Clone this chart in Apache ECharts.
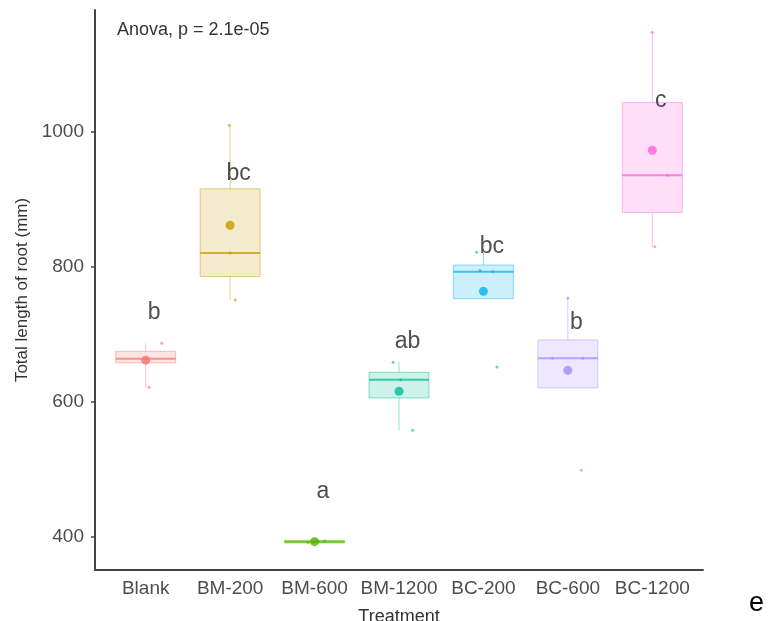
<!DOCTYPE html>
<html>
<head>
<meta charset="utf-8">
<script src="https://cdn.jsdelivr.net/npm/echarts@6/dist/echarts.min.js"></script>
<style>
html, body { margin: 0; padding: 0; background: #fff; }
#main { width: 773px; height: 621px; }
</style>
</head>
<body>
<div id="main"></div>
<script>
// groups on the x axis
var categories = ['Blank', 'BM-200', 'BM-600', 'BM-1200', 'BC-200', 'BC-600', 'BC-1200'];
// [lower whisker, Q1, median, Q3, upper whisker]
var boxStats = [
  [622, 658, 664, 675, 687],
  [751, 786, 821, 916, 1010],
  [389, 391, 393, 395, 396],
  [558, 606, 633, 644, 659],
  [753, 753, 793, 803, 822],
  [621, 621, 665, 692, 754],
  [830, 881, 936, 1044, 1148]
];
var meanValues = [662, 862, 393, 616, 764, 647, 973];
// raw (jittered) observations
var pointGroup  = [1, 1, 1, 2, 2, 2, 3, 3, 3, 4, 4, 4, 5, 5, 5, 5, 6, 6, 6, 6, 7, 7, 7];
var pointJitter = [0.19, 0.04, 0, -0.01, 0, 0.06, -0.08, 0.04, 0.12, -0.07, 0.16, 0.02, -0.08, -0.04, 0.11, 0.16, 0, -0.18, 0.18, 0.16, 0, 0.18, 0.03];
var pointValue  = [687, 622, 664, 1010, 821, 751, 392, 393, 394, 659, 558, 633, 822, 795, 793, 652, 754, 665, 665, 499, 1148, 936, 830];
// significance letters
var letters = ['b', 'bc', 'a', 'ab', 'bc', 'b', 'c'];
var letterY = [732, 939, 467, 689, 830, 717, 1047];
var yTicks = [400, 600, 800, 1000];

var colors = ['#F8766D', '#C49A00', '#53B400', '#00C094', '#00B6EB', '#A58AFF', '#FB61D7'];
var font = 'Arial, "Liberation Sans", sans-serif';

function rgba(hex, a) {
  var n = parseInt(hex.slice(1), 16);
  return 'rgba(' + (n >> 16) + ',' + ((n >> 8) & 255) + ',' + (n & 255) + ',' + a + ')';
}

var chart = echarts.init(document.getElementById('main'));

var boxData = boxStats.map(function (s, i) {
  return [i].concat(s);
});

// ggplot style box: no whisker caps
function renderBox(params, api) {
  var i = api.value(0);
  var c = colors[i];
  var w = api.size([1, 0])[0] * 0.71;
  var lo = api.coord([i, api.value(1)]);
  var q1 = api.coord([i, api.value(2)]);
  var md = api.coord([i, api.value(3)]);
  var q3 = api.coord([i, api.value(4)]);
  var hi = api.coord([i, api.value(5)]);
  var x = lo[0];
  var edge = rgba(c, 0.45);
  return {
    type: 'group',
    children: [{
      type: 'line',
      shape: { x1: x, y1: q3[1], x2: x, y2: hi[1] },
      style: { stroke: edge, lineWidth: 1 }
    }, {
      type: 'line',
      shape: { x1: x, y1: lo[1], x2: x, y2: q1[1] },
      style: { stroke: edge, lineWidth: 1 }
    }, {
      type: 'rect',
      shape: { x: x - w / 2, y: q3[1], width: w, height: q1[1] - q3[1] },
      style: { fill: rgba(c, 0.2), stroke: edge, lineWidth: 1 }
    }, {
      type: 'line',
      shape: { x1: x - w / 2, y1: md[1], x2: x + w / 2, y2: md[1] },
      style: { stroke: rgba(c, 0.75), lineWidth: 2 }
    }]
  };
}

var pointData = pointValue.map(function (v, i) {
  var g = pointGroup[i] - 1;
  return { value: [pointGroup[i] + pointJitter[i], v], itemStyle: { color: rgba(colors[g], 0.8) } };
});

var meanData = meanValues.map(function (v, i) {
  return { value: [i + 1, v], itemStyle: { color: colors[i] } };
});

var letterData = letters.map(function (t, i) {
  return { name: t, value: [i + 1.1, letterY[i]] };
});

option = {
  animation: false,
  backgroundColor: '#fff',
  title: {
    text: 'Anova, p = 2.1e-05',
    left: 112, top: 16,
    textStyle: { fontSize: 18, fontWeight: 'normal', color: '#333', fontFamily: font }
  },
  graphic: [{
    type: 'text', left: 749, top: 590,
    style: { text: 'e', fontSize: 27, fill: '#000', fontFamily: font }
  }],
  grid: [
    { left: 103.5, right: 78.5, top: 10, bottom: 51, outerBoundsMode: 'none', containLabel: false },
    { left: 95, right: 70, top: 10, bottom: 51, outerBoundsMode: 'none', containLabel: false }
  ],
  xAxis: [{
    type: 'category',
    gridIndex: 0,
    data: categories,
    name: 'Treatment',
    nameLocation: 'middle',
    nameGap: 38,
    nameTextStyle: { fontSize: 18, color: '#333', fontFamily: font },
    axisLine: { show: false },
    axisTick: { alignWithLabel: true, length: 4, lineStyle: { color: '#444', width: 1.5 } },
    axisLabel: { fontSize: 19, color: '#4d4d4d', margin: 9, fontFamily: font, interval: 0 },
    splitLine: { show: false }
  }, {
    type: 'value',
    gridIndex: 0,
    min: 0.5, max: 7.5,
    show: false
  }, {
    type: 'value',
    gridIndex: 1,
    min: 0, max: 1,
    axisLine: { show: true, onZero: false, lineStyle: { color: '#444', width: 2 } },
    axisTick: { show: false },
    axisLabel: { show: false },
    splitLine: { show: false }
  }],
  yAxis: [{
    type: 'value',
    gridIndex: 0,
    min: 351, max: 1181,
    offset: 8.5,
    name: 'Total length of root (mm)',
    nameLocation: 'middle',
    nameGap: 64,
    nameTextStyle: { fontSize: 17, color: '#333', fontFamily: font },
    axisLine: { show: true, lineStyle: { color: '#444', width: 2 } },
    axisTick: { show: true, length: 4, customValues: yTicks, lineStyle: { color: '#444', width: 1.5 } },
    axisLabel: {
      fontSize: 19, color: '#4d4d4d', margin: 11, customValues: yTicks, fontFamily: font,
      formatter: function (v) { return String(v); }
    },
    splitLine: { show: false }
  }, {
    type: 'value',
    gridIndex: 1,
    show: false
  }],
  series: [{
    type: 'custom',
    xAxisIndex: 0,
    yAxisIndex: 0,
    renderItem: renderBox,
    encode: { x: 0, y: [1, 2, 3, 4, 5] },
    data: boxData
  }, {
    type: 'scatter',
    xAxisIndex: 1,
    yAxisIndex: 0,
    symbolSize: 3,
    data: pointData
  }, {
    type: 'scatter',
    xAxisIndex: 1,
    yAxisIndex: 0,
    symbolSize: 9,
    data: meanData
  }, {
    type: 'scatter',
    xAxisIndex: 1,
    yAxisIndex: 0,
    symbolSize: 1,
    itemStyle: { color: 'rgba(0,0,0,0)' },
    label: {
      show: true,
      position: 'inside',
      formatter: '{b}',
      fontSize: 23,
      color: '#222',
      fontFamily: font
    },
    data: letterData
  }]
};

chart.setOption(option);
</script>
</body>
</html>
